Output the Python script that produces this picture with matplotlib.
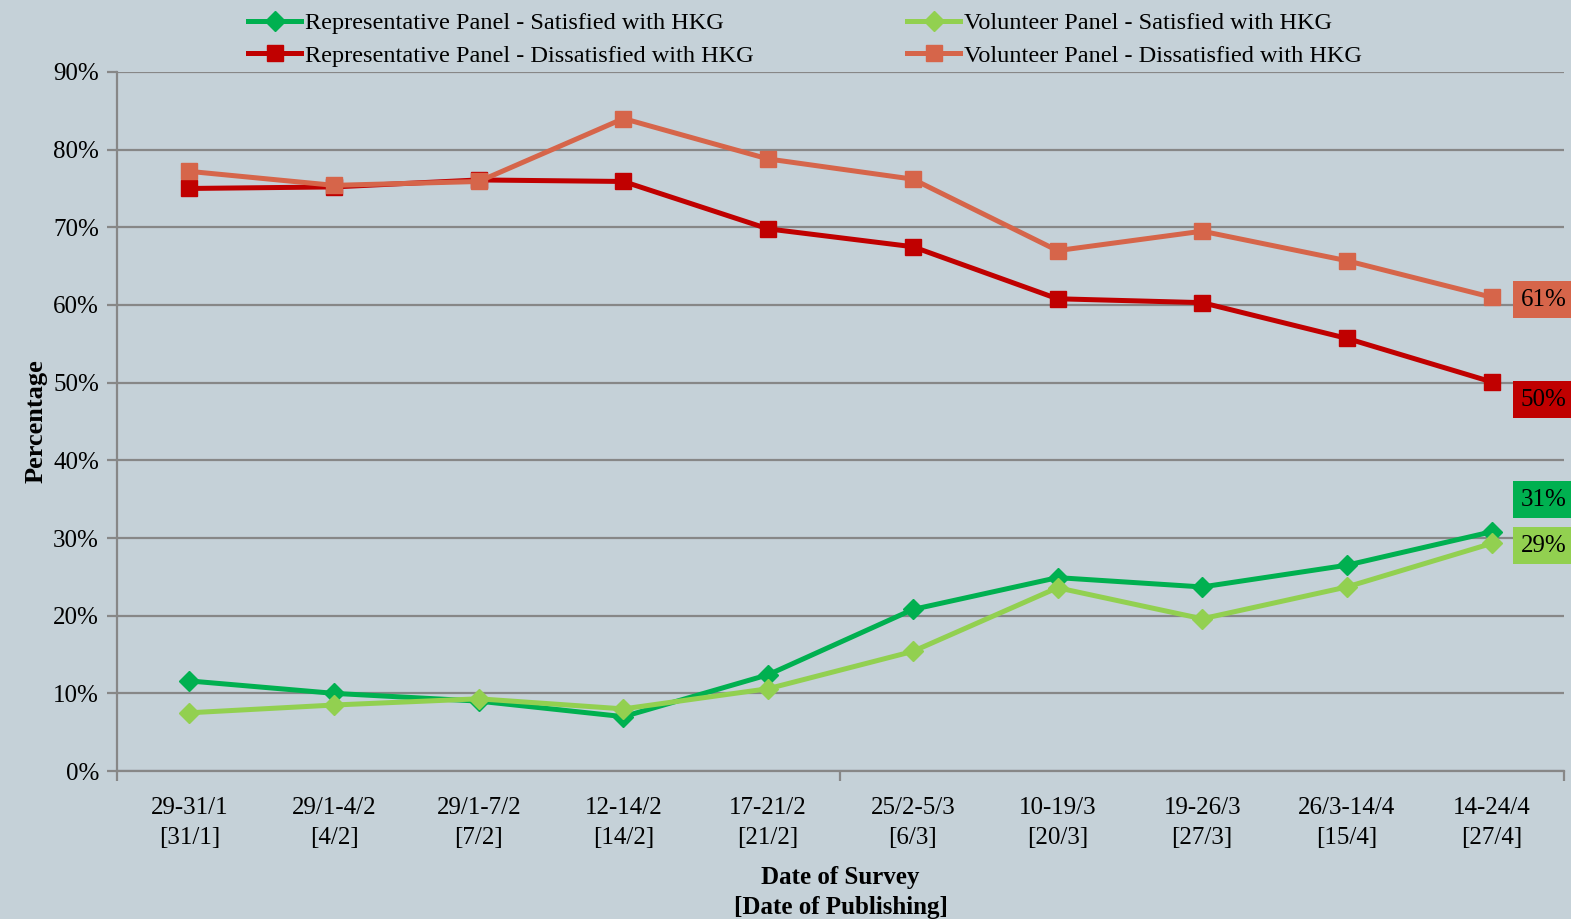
import numpy as np
import matplotlib.pyplot as plt
from matplotlib.ticker import FixedLocator, PercentFormatter

plt.rcParams["font.family"] = ["Liberation Serif", "DejaVu Serif"]

# survey dates with publishing dates
categories = ["29-31/1\n[31/1]", "29/1-4/2\n[4/2]", "29/1-7/2\n[7/2]", "12-14/2\n[14/2]",
              "17-21/2\n[21/2]", "25/2-5/3\n[6/3]", "10-19/3\n[20/3]", "19-26/3\n[27/3]",
              "26/3-14/4\n[15/4]", "14-24/4\n[27/4]"]
rep_sat = [11.6, 10.0, 9.0, 7.0, 12.4, 20.8, 24.9, 23.7, 26.5, 30.8]
vol_sat = [7.5, 8.5, 9.3, 8.0, 10.6, 15.4, 23.6, 19.6, 23.7, 29.3]
rep_dis = [75.0, 75.2, 76.1, 75.9, 69.8, 67.5, 60.8, 60.3, 55.7, 50.1]
vol_dis = [77.2, 75.4, 75.9, 84.0, 78.8, 76.2, 67.0, 69.5, 65.7, 61.0]
end_labels = ["31%", "29%", "50%", "61%"]

bg = "#C5D1D8"
c_rep_sat = "#00B050"
c_vol_sat = "#92D050"
c_rep_dis = "#C00000"
c_vol_dis = "#D6654A"
grey = "#878787"
fs = 18

fig = plt.figure(figsize=(15.71, 9.19), dpi=100, facecolor=bg)
ax = fig.add_axes([0.0745, 0.161, 0.921, 0.7607], facecolor=bg)

x = np.arange(len(categories))
l1, = ax.plot(x, rep_sat, color=c_rep_sat, lw=3.6, marker="D", ms=10, label="Representative Panel - Satisfied with HKG")
l3, = ax.plot(x, rep_dis, color=c_rep_dis, lw=3.6, marker="s", ms=12, label="Representative Panel - Dissatisfied with HKG")
l2, = ax.plot(x, vol_sat, color=c_vol_sat, lw=3.6, marker="D", ms=10, label="Volunteer Panel - Satisfied with HKG")
l4, = ax.plot(x, vol_dis, color=c_vol_dis, lw=3.6, marker="s", ms=12, label="Volunteer Panel - Dissatisfied with HKG")

ax.set_xlim(-0.5, len(categories) - 0.5)
ax.set_ylim(0, 90)
ax.yaxis.set_major_locator(FixedLocator(np.arange(0, 91, 10)))
ax.yaxis.set_major_formatter(PercentFormatter(decimals=0))
ax.grid(axis="y", color=grey, lw=1.6)
ax.set_axisbelow(True)

ax.set_xticks(x)
ax.set_xticklabels(categories, fontsize=fs, linespacing=1.45)
ax.set_xticks([-0.5, 4.5, 9.5], minor=True)
ax.tick_params(axis="x", which="major", length=0, pad=19)
ax.tick_params(axis="x", which="minor", length=7, width=1.6, color=grey)
ax.tick_params(axis="y", length=7, width=1.6, color=grey, labelsize=fs, pad=6)

for s in ("top", "right"):
    ax.spines[s].set_visible(False)
for s in ("left", "bottom"):
    ax.spines[s].set_color(grey)
    ax.spines[s].set_linewidth(1.6)

ax.set_ylabel("Percentage", fontsize=19, fontweight="bold", labelpad=4)
ax.set_xlabel("Date of Survey\n[Date of Publishing]", fontsize=fs, fontweight="bold", linespacing=1.4, labelpad=12)

# end-point value boxes
last = len(categories) - 1
boxes = [(rep_sat[-1], end_labels[0], c_rep_sat, 23),
         (vol_sat[-1], end_labels[1], c_vol_sat, -1.5),
         (rep_dis[-1], end_labels[2], c_rep_dis, -13),
         (vol_dis[-1], end_labels[3], c_vol_dis, -2)]
for yv, txt, col, dy in boxes:
    ax.annotate(txt, (last, yv), xytext=(21, dy), textcoords="offset points",
                ha="left", va="center", fontsize=fs, color="black",
                bbox=dict(boxstyle="square,pad=0.3", fc=col, ec="none"),
                annotation_clip=False)

fig.legend(handles=[l1, l3, l2, l4], ncol=2, loc="upper left", bbox_to_anchor=(0.147, 1.005),
           frameon=False, fontsize=17.5, handlelength=2.2, handletextpad=0.15,
           columnspacing=6.3, labelspacing=0.42, borderaxespad=0.3)

fig.savefig("out.png", dpi=100, facecolor=bg)
